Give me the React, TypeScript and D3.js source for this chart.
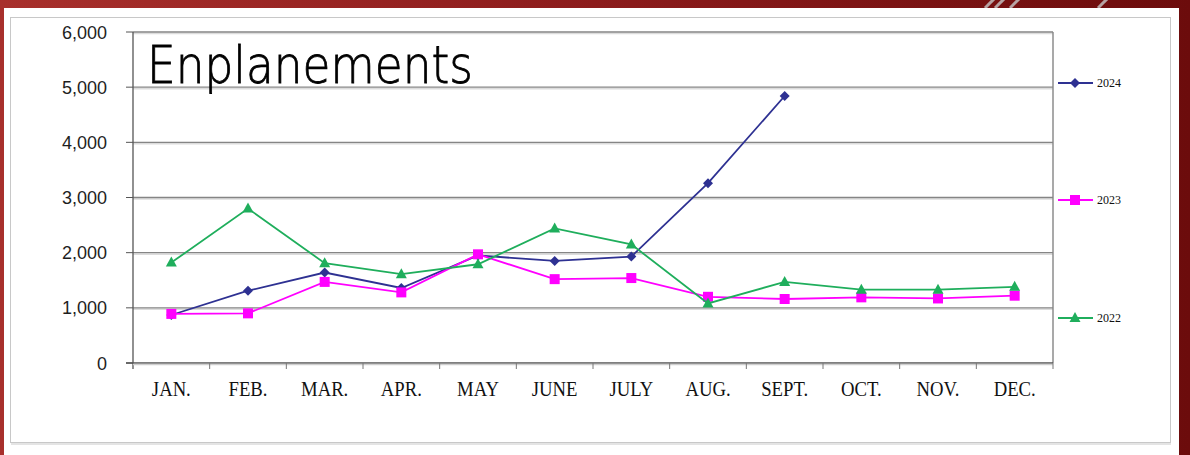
import React from "react";
import * as d3 from "d3";

const months = ["JAN.", "FEB.", "MAR.", "APR.", "MAY", "JUNE", "JULY", "AUG.", "SEPT.", "OCT.", "NOV.", "DEC."];
const values2024 = [870, 1310, 1640, 1360, 1950, 1850, 1930, 3260, 4840];
const values2023 = [890, 900, 1470, 1280, 1970, 1520, 1540, 1200, 1160, 1190, 1170, 1220];
const values2022 = [1820, 2800, 1810, 1610, 1790, 2440, 2150, 1080, 1470, 1330, 1330, 1380];
const yTicks = [0, 1000, 2000, 3000, 4000, 5000, 6000];

const series = [
  { name: "2024", values: values2024, color: "#2e3192", marker: "diamond", legendY: 83 },
  { name: "2023", values: values2023, color: "#ff00ff", marker: "square", legendY: 200 },
  { name: "2022", values: values2022, color: "#1fae5c", marker: "triangle", legendY: 318 },
];

const W = 1190, H = 455;
const left = 133, right = 1053, top = 32, bottom = 363;

function Marker({ type, x, y, color }) {
  if (type === "diamond") {
    return <path d={`M${x},${y - 5}L${x + 5},${y}L${x},${y + 5}L${x - 5},${y}Z`} fill={color} />;
  }
  if (type === "square") {
    return <rect x={x - 5} y={y - 5} width={10} height={10} fill={color} />;
  }
  return <path d={`M${x},${y - 6}L${x + 5.5},${y + 4}L${x - 5.5},${y + 4}Z`} fill={color} />;
}

export default function App() {
  const x = d3.scaleBand().domain(months).range([left, right]);
  const y = d3.scaleLinear().domain([0, 6000]).range([bottom, top]);
  const line = d3.line<number>()
    .x((d, i) => x(months[i])! + x.bandwidth() / 2)
    .y((d) => y(d));

  return (
    <svg width={W} height={H} style={{ position: "absolute", left: 0, top: 0 }}>
      <defs>
        <linearGradient id="bg" x1="0" x2="1" y1="0" y2="0">
          <stop offset="0" stopColor="#a8302c" />
          <stop offset="0.5" stopColor="#8c1c1c" />
          <stop offset="1" stopColor="#6c0c0c" />
        </linearGradient>
      </defs>
      <rect width={W} height={H} fill="url(#bg)" />
      {[985, 995, 1010, 1098].map((sx, i) => (
        <line key={i} x1={sx} y1={8} x2={sx + 10} y2={-2} stroke="#c8c8c8" strokeWidth={3} opacity={0.8} />
      ))}
      <rect x={4} y={8} width={1175} height={H} fill="#fff" />
      <rect x={10.5} y={17.5} width={1160} height={425} fill="none" stroke="#c8c8c8" strokeWidth={1} />
      <line x1={11} x2={1171} y1={444} y2={444} stroke="#e4e4e4" strokeWidth={2} />

      {/* gridlines */}
      {yTicks.filter((t) => t > 0).map((t) => (
        <g key={t}>
          <line x1={left} x2={right} y1={y(t) + 1.5} y2={y(t) + 1.5} stroke="#dcdcdc" strokeWidth={1.5} />
          <line x1={left} x2={right} y1={y(t)} y2={y(t)} stroke="#858585" strokeWidth={1.4} />
        </g>
      ))}
      <line x1={right} x2={right} y1={top} y2={bottom} stroke="#858585" strokeWidth={1.4} />
      <line x1={left} x2={left} y1={top} y2={bottom + 6} stroke="#555" strokeWidth={1.3} />
      <line x1={left - 7} x2={right} y1={bottom} y2={bottom} stroke="#555" strokeWidth={1.3} />
      <line x1={left} x2={right} y1={bottom + 1.5} y2={bottom + 1.5} stroke="#cfcfcf" strokeWidth={1.5} />

      {/* y ticks */}
      {yTicks.map((t) => (
        <g key={t}>
          <line x1={left - 7} x2={left} y1={y(t)} y2={y(t)} stroke="#555" />
          <text x={107} y={y(t) + 6.5} textAnchor="end" fontFamily="'Liberation Sans', Arial, sans-serif" fontSize={18} fill="#1e1e1e">
            {d3.format(",")(t)}
          </text>
        </g>
      ))}

      {/* x ticks */}
      {months.map((m) => (
        <g key={m}>
          <line x1={x(m)! + x.bandwidth()} x2={x(m)! + x.bandwidth()} y1={bottom} y2={bottom + 6} stroke="#777" />
          <text
            transform={`translate(${x(m)! + x.bandwidth() / 2},396) scale(0.85,1)`}
            textAnchor="middle"
            fontFamily="'Liberation Serif', 'Times New Roman', serif"
            fontSize={22}
            fill="#111"
          >
            {m}
          </text>
        </g>
      ))}

      <text x={147} y={83} fontFamily="'DejaVu Sans', sans-serif" fontWeight={300} fontSize={51} textLength={326} lengthAdjust="spacingAndGlyphs" fill="#000" stroke="#000" strokeWidth={0.8}>
        Enplanements
      </text>

      {series.map((s) => (
        <g key={s.name}>
          <path d={line(s.values)!} fill="none" stroke={s.color} strokeWidth={1.8} />
          {s.values.map((v, i) => (
            <Marker key={i} type={s.marker} x={x(months[i])! + x.bandwidth() / 2} y={y(v)} color={s.color} />
          ))}
          <line x1={1058} x2={1093} y1={s.legendY} y2={s.legendY} stroke={s.color} strokeWidth={1.8} />
          <Marker type={s.marker} x={1075} y={s.legendY} color={s.color} />
          <text x={1097} y={s.legendY + 4} fontFamily="'Liberation Serif', 'Times New Roman', serif" fontSize={12} fill="#111">
            {s.name}
          </text>
        </g>
      ))}
    </svg>
  );
}
